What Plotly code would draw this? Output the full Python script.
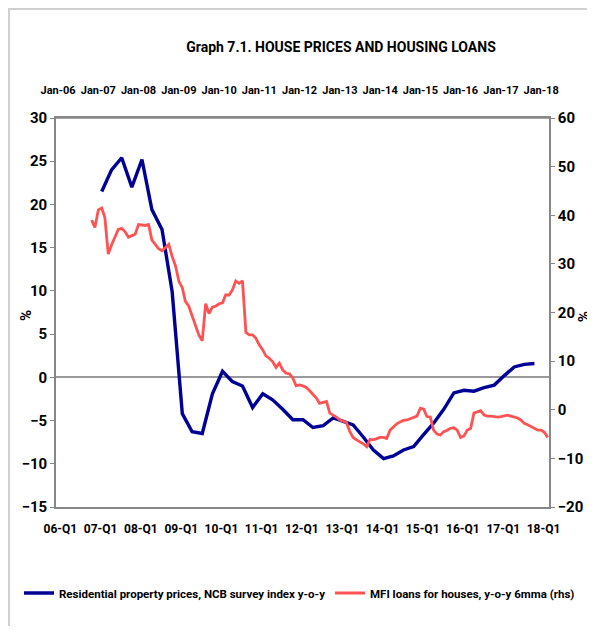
import pandas as pd
import plotly.graph_objects as go

# ---------------- data ----------------
title_text = "Graph 7.1. HOUSE PRICES AND HOUSING LOANS"
blue_name = "Residential property prices, NCB survey index y-o-y"
red_name = "MFI loans for houses, y-o-y 6mma (rhs)"

# quarterly, 07-Q1 .. 17-Q4 (left axis, %)
blue_start = "2007Q1"
blue_values = [21.5, 24.0, 25.4, 22.0,
               25.2, 19.4, 17.1, 9.9,
               -4.2, -6.3, -6.5, -1.9,
               0.7, -0.5, -1.0, -3.5,
               -1.9, -2.6, -3.7, -4.9,
               -4.9, -5.8, -5.6, -4.7,
               -5.1, -5.5, -6.9, -8.4,
               -9.4, -9.1, -8.4, -8.0,
               -6.6, -5.3, -3.7, -1.8,
               -1.5, -1.6, -1.2, -0.9,
               0.2, 1.2, 1.5, 1.6]

# monthly, Nov-06 .. Mar-18 (right axis, %)
red_start = "2006-11"
red_values = [39.0, 37.5,
              41.1, 41.5, 39.6, 32.0, 33.9, 35.6, 37.1, 37.3, 36.6, 35.5, 35.8, 36.1,
              38.1, 38.0, 37.9, 38.1, 34.9, 34.0, 33.1, 32.7, 33.3, 34.0, 31.5, 29.6,
              26.4, 25.1, 22.3, 21.3, 19.3, 17.1, 15.4, 14.2, 21.8, 19.8, 21.1, 21.3,
              21.8, 22.0, 23.6, 23.6, 24.6, 26.5, 26.0, 26.5, 15.9, 15.4, 15.4, 14.7,
              13.3, 12.3, 11.1, 10.6, 9.9, 8.7, 9.6, 8.2, 7.5, 7.4, 6.5, 4.9,
              5.1, 4.9, 4.6, 3.9, 3.2, 2.4, 1.3, 1.5, 1.7, -0.7, -1.1, -1.5,
              -2.1, -2.3, -2.6, -4.5, -5.7, -6.2, -6.6, -7.0, -7.6, -6.1, -6.2, -5.9,
              -5.7, -5.7, -5.9, -4.2, -3.5, -2.9, -2.5, -2.2, -2.1, -1.8, -1.6, -1.3,
              0.3, 0.1, -1.4, -1.5, -4.2, -5.0, -5.2, -4.5, -4.2, -3.8, -3.7, -4.2,
              -5.7, -5.4, -4.2, -3.8, -0.7, -0.4, -0.2, -1.1, -1.3, -1.3, -1.4, -1.5,
              -1.4, -1.3, -1.1, -1.3, -1.5, -1.7, -2.1, -2.8, -3.1, -3.5, -3.8, -4.2,
              -4.2, -4.7, -5.7]

years = list(range(2006, 2019))
top_tick_labels = ["Jan-06", "Jan-07", "Jan-08", "Jan-09", "Jan-10", "Jan-11", "Jan-12",
                   "Jan-13", "Jan-14", "Jan-15", "Jan-16", "Jan-17", "Jan-18"]
bottom_tick_labels = ["06-Q1", "07-Q1", "08-Q1", "09-Q1", "10-Q1", "11-Q1", "12-Q1",
                      "13-Q1", "14-Q1", "15-Q1", "16-Q1", "17-Q1", "18-Q1"]

# ---------------- derived x ----------------
blue_periods = pd.period_range(blue_start, periods=len(blue_values), freq="Q")
blue_x = [(p.start_time + pd.DateOffset(months=1)) for p in blue_periods]  # mid-quarter month
red_x = pd.date_range(red_start, periods=len(red_values), freq="MS")

top_tickvals = [pd.Timestamp(f"{y}-01-01") for y in years]
bottom_tickvals = [pd.Timestamp(f"{y}-01-22") for y in years]

FONT = "Roboto"
AX = "#878787"
BLUE = "#000096"
RED = "#FF5252"

# figure is placed 8px in from the page corner by the page's body margin
W, H = 587, 618
ML, MR, MT, MB = 48, 46, 110, 119
PW, PH = W - ML - MR, H - MT - MB


def px(xf):  # figure x pixel -> paper
    return (xf - ML) / PW


def py(yf):  # figure y pixel -> paper
    return (H - MB - yf) / PH


fig = go.Figure()
fig.add_trace(go.Scatter(x=blue_x, y=blue_values, mode="lines", name=blue_name,
                         line=dict(color=BLUE, width=3.4), xaxis="x", yaxis="y",
                         legend="legend"))
fig.add_trace(go.Scatter(x=red_x, y=red_values, mode="lines", name=red_name,
                         line=dict(color=RED, width=2.8), xaxis="x2", yaxis="y2",
                         legend="legend2"))

xr = ["2005-12-13", "2018-03-13"]
tickfont = dict(family=FONT, size=12, color="#000000", weight="bold")
legfont = dict(family=FONT, size=11.5, color="#000000", weight="bold")

fig.update_layout(
    width=W, height=H,
    margin=dict(l=ML, r=MR, t=MT, b=MB, autoexpand=False),
    paper_bgcolor="white", plot_bgcolor="white",
    title=dict(text=title_text, x=px(333), xref="paper", xanchor="center",
               y=1 - 39 / H, yanchor="middle",
               font=dict(family=FONT, size=14, color="#000000", weight="bold")),
    xaxis=dict(type="date", range=xr, tickvals=bottom_tickvals, ticktext=bottom_tick_labels,
               showgrid=False, zeroline=False, showline=True, linecolor=AX, linewidth=1.6,
               ticks="", tickfont=tickfont, tickangle=0, ticklabelstandoff=10),
    xaxis2=dict(type="date", range=xr, overlaying="x", side="top", anchor="y",
                tickvals=top_tickvals, ticktext=top_tick_labels,
                showgrid=False, zeroline=False, showline=True, linecolor=AX, linewidth=1.6,
                ticks="", tickfont=dict(tickfont, size=11), tickangle=0, ticklabelstandoff=18),
    yaxis=dict(range=[-15, 30], dtick=5, showgrid=False, zeroline=True, zerolinecolor="#9a9a9a",
               zerolinewidth=1.5, showline=True, linecolor=AX, linewidth=1.6,
               ticks="outside", ticklen=4, tickcolor=AX, tickfont=dict(tickfont, size=15)),
    yaxis2=dict(range=[-20, 60], dtick=10, overlaying="y", side="right", anchor="x",
                showgrid=False, zeroline=False, showline=True, linecolor=AX, linewidth=1.6,
                ticks="outside", ticklen=4, tickcolor=AX, tickfont=dict(tickfont, size=15)),
    showlegend=True,
    legend=dict(orientation="h", xref="container", yref="container",
                x=11 / W, xanchor="left", y=1 - 585 / H, yanchor="middle",
                font=legfont, bgcolor="rgba(0,0,0,0)"),
    legend2=dict(orientation="h", xref="container", yref="container",
                 x=322 / W, xanchor="left", y=1 - 585 / H, yanchor="middle",
                 font=legfont, bgcolor="rgba(0,0,0,0)"),
    annotations=[
        dict(text="%", x=px(18), y=py(308), xref="paper", yref="paper", xanchor="center",
             yanchor="middle", showarrow=False, textangle=-90,
             font=dict(family=FONT, size=15, weight="bold", color="#000000")),
        dict(text="%", x=px(575), y=py(308), xref="paper", yref="paper", xanchor="center",
             yanchor="middle", showarrow=False, textangle=90,
             font=dict(family=FONT, size=15, weight="bold", color="#000000")),
    ],
    shapes=[
        dict(type="rect", xref="paper", yref="paper",
             x0=px(1), x1=px(W + 40), y0=py(H + 40), y1=py(1),
             line=dict(color="#d0d0d0", width=2), fillcolor="rgba(0,0,0,0)", layer="below"),
        dict(type="line", xref="paper", yref="paper", x0=0, x1=1, y0=1, y1=1,
             line=dict(color=AX, width=1.6)),
    ],
)

fig.write_html("out.html")
